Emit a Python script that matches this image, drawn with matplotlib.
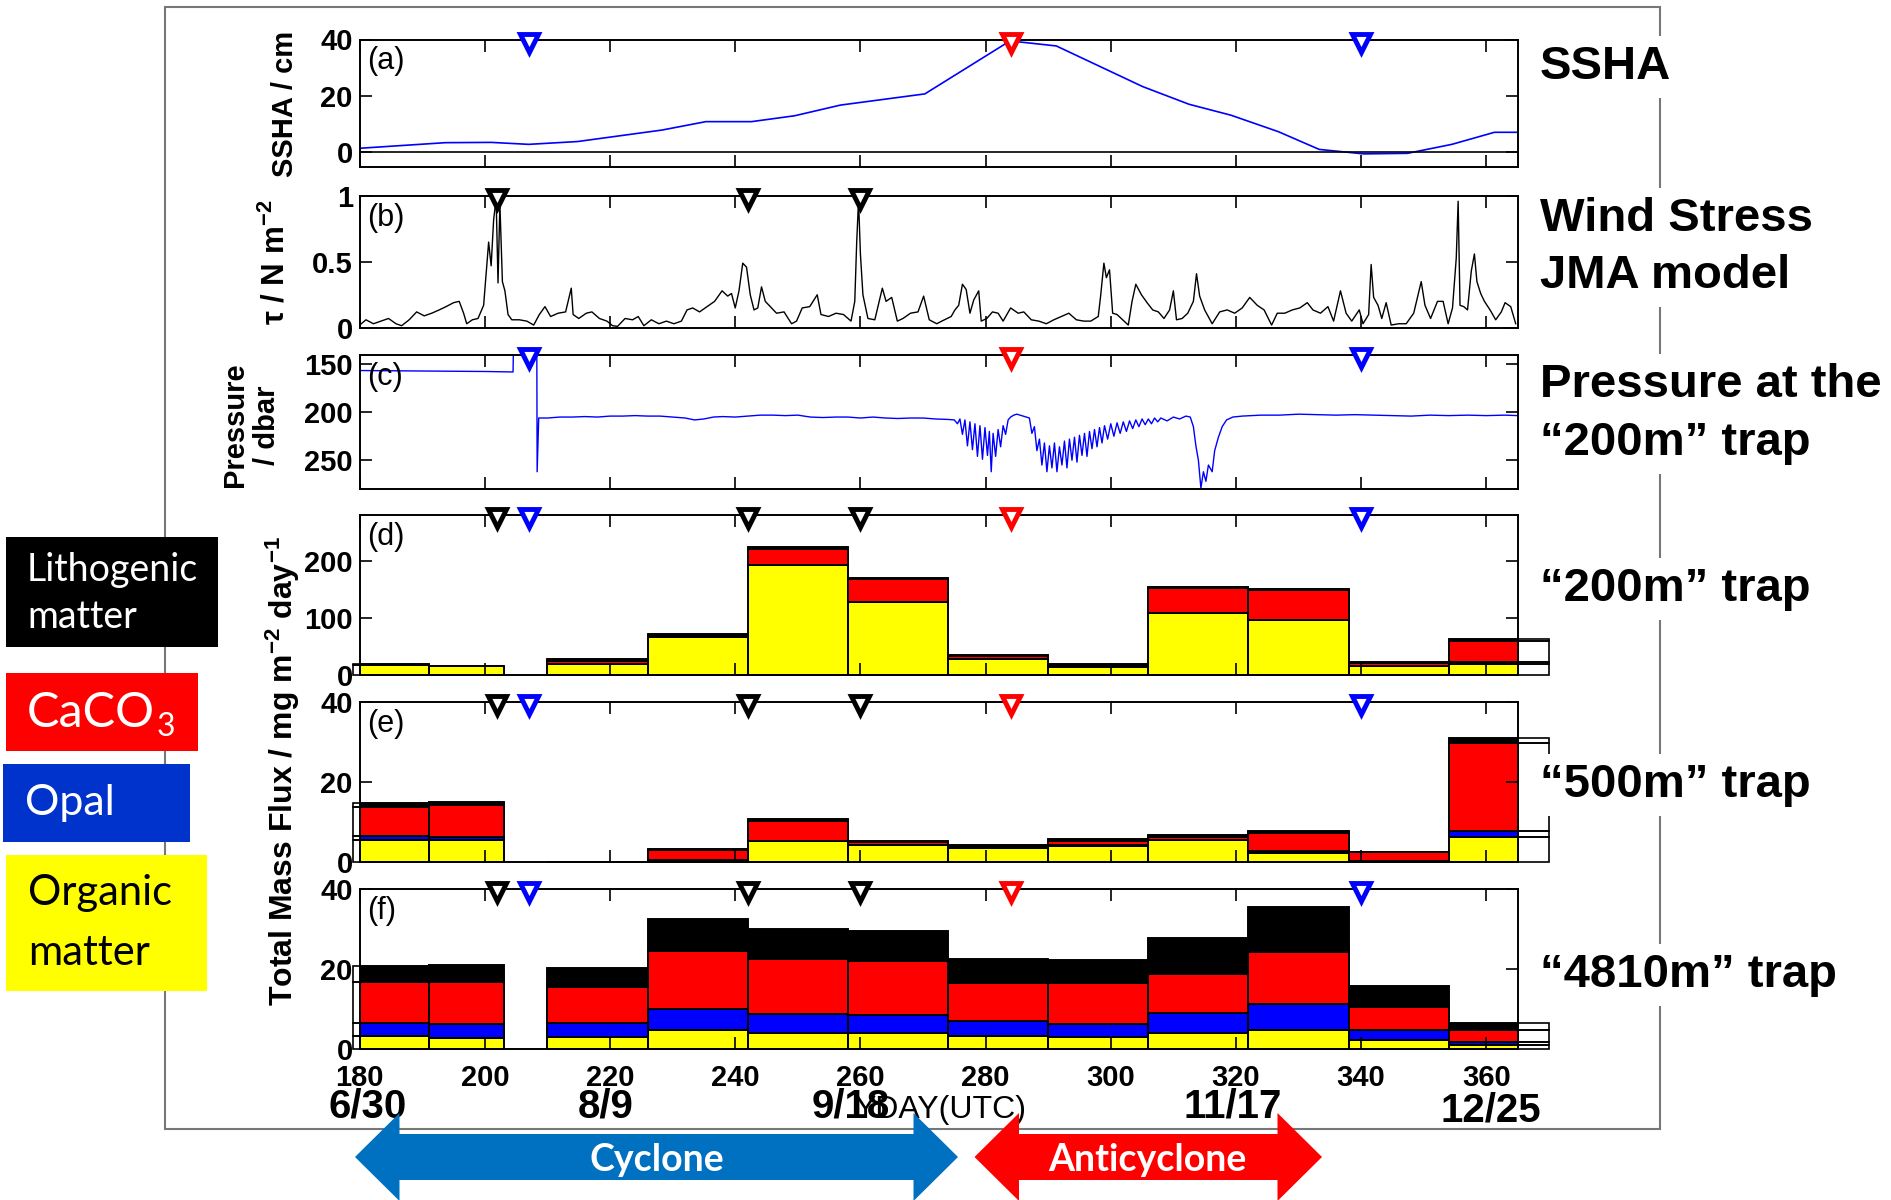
import matplotlib
matplotlib.use('Agg')

import matplotlib.pyplot as plt
import matplotlib.transforms as mtransforms
from matplotlib.patches import Rectangle, Polygon
from matplotlib.text import Annotation

# ---------------- data ----------------
# (a) SSHA (cm)
ssha_day = [180, 193.7, 201, 207, 214.8, 228.3, 235.3, 242.6, 249.5, 256.8, 270.3,
            283.9, 291.3, 305.1, 312.5, 319.2, 326.8, 333.3, 340.4, 347.4, 354.5, 361.3, 365]
ssha_cm = [1.2, 3.2, 3.3, 2.6, 3.6, 7.7, 10.7, 10.7, 12.8, 16.6, 20.6,
           39.5, 37.7, 23.2, 16.9, 13.0, 7.1, 0.8, -0.8, -0.6, 2.6, 6.9, 6.9]

# (b) wind stress, JMA model (N m-2)
wind_day = [180, 181, 182.2, 183.4, 184.6, 185.8, 186.7, 187.9, 189.1, 190.3, 191.5, 192.7,
            193.8, 195, 195.9, 196.6, 197.1, 198, 198.9, 199.8, 200.1, 200.6, 201, 201.4,
            201.8, 202.1, 202.4, 202.8, 203.2, 203.7, 204.3, 205.5, 206.7, 207.8, 208.7, 209.6,
            210.5, 211.7, 212.9, 213.8, 214.1, 215, 216.2, 217.1, 218.3, 219.5, 220.4, 221.2,
            222.4, 223.6, 224.5, 225.4, 226.6, 227.8, 229, 230.2, 231.4, 232.3, 233.2, 234.3,
            235.5, 236.7, 237.9, 238.8, 239.4, 240, 240.6, 241.2, 241.8, 242.4, 243, 243.6,
            244.2, 244.8, 245.4, 246.6, 247.8, 249, 249.8, 250.7, 251.9, 253.1, 253.7, 254.9,
            256.1, 257.3, 258.5, 259.1, 259.4, 259.7, 260, 260.4, 261.2, 262.3, 263.5, 264.1,
            265, 265.9, 266.8, 268, 269.2, 270.1, 271, 272.2, 273, 274.5, 275.1, 275.7,
            276.3, 276.9, 277.5, 278.1, 278.9, 279.3, 280.2, 281.1, 282, 282.8, 284, 285.2,
            286.1, 287.3, 288.5, 289.7, 290.9, 292.1, 293.3, 294.5, 295.7, 296.8, 298, 298.4,
            298.9, 299.3, 299.8, 300.3, 301, 301.9, 302.8, 303.4, 304, 304.9, 305.8, 306.7,
            307.6, 308.5, 309.4, 310, 310.5, 311.4, 312.3, 313.2, 313.7, 314.2, 315, 316.2,
            317.4, 318.6, 319.8, 321, 322.2, 323.4, 324.5, 325.7, 326.6, 327.8, 329, 330.2,
            331.4, 332.3, 333.5, 334.7, 335.6, 336.7, 337.6, 338.5, 339.7, 340.3, 341.2, 341.6,
            342, 342.7, 343.3, 344, 344.8, 346, 347.2, 348.4, 349.6, 350.2, 351.1, 352.2,
            353.1, 353.9, 354.6, 355.2, 355.5, 355.8, 356.4, 357, 357.6, 358.1, 358.5, 359.1,
            359.7, 360.6, 361.5, 362.4, 363, 363.9, 364.7]
wind_tau = [0.02, 0.06, 0.03, 0.05, 0.07, 0.03, 0.015, 0.06, 0.12, 0.09, 0.11, 0.135,
            0.16, 0.19, 0.20, 0.11, 0.03, 0.06, 0.07, 0.17, 0.35, 0.65, 0.47, 0.82,
            0.98, 0.34, 0.94, 0.35, 0.28, 0.10, 0.06, 0.06, 0.05, 0.02, 0.10, 0.16,
            0.085, 0.11, 0.12, 0.30, 0.10, 0.07, 0.11, 0.12, 0.07, 0.05, 0.015, 0.01,
            0.07, 0.06, 0.085, 0.015, 0.06, 0.03, 0.05, 0.03, 0.05, 0.135, 0.15, 0.12,
            0.16, 0.20, 0.28, 0.24, 0.26, 0.15, 0.28, 0.49, 0.46, 0.25, 0.135, 0.15,
            0.31, 0.20, 0.17, 0.11, 0.12, 0.03, 0.05, 0.15, 0.16, 0.25, 0.10, 0.085,
            0.11, 0.10, 0.05, 0.20, 0.64, 0.97, 0.56, 0.25, 0.07, 0.06, 0.30, 0.20,
            0.23, 0.05, 0.07, 0.11, 0.12, 0.24, 0.06, 0.03, 0.05, 0.085, 0.135, 0.17,
            0.33, 0.29, 0.11, 0.21, 0.28, 0.05, 0.07, 0.12, 0.11, 0.05, 0.15, 0.11,
            0.12, 0.06, 0.05, 0.03, 0.06, 0.085, 0.11, 0.06, 0.05, 0.05, 0.085, 0.25,
            0.49, 0.38, 0.44, 0.11, 0.10, 0.06, 0.02, 0.20, 0.33, 0.25, 0.19, 0.135,
            0.12, 0.07, 0.135, 0.28, 0.06, 0.07, 0.11, 0.20, 0.41, 0.24, 0.135, 0.03,
            0.12, 0.135, 0.11, 0.15, 0.23, 0.17, 0.135, 0.02, 0.11, 0.11, 0.135, 0.15,
            0.19, 0.135, 0.11, 0.16, 0.05, 0.28, 0.11, 0.05, 0.135, 0.03, 0.10, 0.48,
            0.23, 0.17, 0.07, 0.19, 0.02, 0.03, 0.03, 0.11, 0.35, 0.17, 0.07, 0.20,
            0.20, 0.03, 0.15, 0.53, 0.96, 0.17, 0.16, 0.135, 0.43, 0.56, 0.35, 0.26,
            0.20, 0.135, 0.06, 0.12, 0.19, 0.16, 0.03]

# (c) pressure at the "200m" trap (dbar)
pres_day = [180, 185, 190, 195, 200, 204.5, 204.55, 208.3, 208.35, 208.6,
            210, 212, 214, 216, 218, 220, 222, 224, 226, 228, 230, 232, 233.5, 235,
            236.5, 238, 240, 242, 244, 246, 248, 250, 252, 254, 256, 258, 260, 262,
            264, 266, 268, 270, 272, 274, 275, 275.5, 275.9, 276.3, 276.7, 277.1,
            277.5, 277.9, 278.3, 278.7, 279.1, 279.5, 279.9, 280.3, 280.6, 280.9,
            281.2, 281.6, 282.0, 282.4, 282.8, 283.2, 283.6, 284.0, 284.5, 285.0,
            285.5, 286.0, 286.5, 287.0, 287.4, 287.8, 288.2, 288.6, 289.0, 289.4,
            289.8, 290.2, 290.6, 291.0, 291.4, 291.8, 292.2, 292.6, 293.0, 293.4,
            293.8, 294.2, 294.6, 295.0, 295.4, 295.8, 296.2, 296.6, 297.0, 297.4,
            297.8, 298.2, 298.6, 299.0, 299.5, 300.0, 300.5, 301.0, 301.5, 302,
            302.5, 303, 303.5, 304, 304.5, 305, 305.5, 306, 306.5, 307, 307.5, 308,
            309, 310, 311, 312, 312.7, 313.2, 313.6, 314, 314.4, 314.8, 315.2, 315.6,
            316.2, 316.6, 317.2, 317.8, 318.5, 319.5, 321, 324, 327, 330, 333, 336,
            339, 342, 345, 348, 351, 354, 357, 360, 363, 365]
pres_dbar = [156.5, 156.8, 157, 157.2, 157.5, 158, 138, 138, 262, 206,
             206, 205, 205, 204.5, 205, 204, 204, 203.5, 204, 204, 205, 206, 208, 207,
             205, 204.5, 205, 204, 203, 203, 203.5, 203, 205, 205.5, 205, 205, 206, 205,
             206, 206.5, 206, 206, 207, 207.5, 208, 212, 207, 223, 208, 235,
             210, 239, 212, 246, 214, 249, 216, 245, 220, 262,
             222, 246, 218, 236, 214, 223, 208, 205, 203, 202,
             203, 204, 205, 206, 222, 215, 240, 228, 255, 232,
             262, 235, 258, 232, 262, 236, 255, 230, 258, 228,
             250, 226, 252, 224, 245, 222, 246, 220, 238, 218,
             236, 216, 232, 214, 228, 212, 225, 211, 222, 210,
             220, 209, 217, 208, 215, 207, 213, 207, 212, 206, 210, 206,
             209, 205, 207, 204, 205, 215, 235, 250, 279, 262, 272, 255,
             262, 240, 226, 215, 208, 205, 204, 203, 203, 202, 202.5, 203,
             202.5, 203, 203.5, 204, 203, 203.5, 203, 203.5, 203, 203.5]

# (d)-(f) sediment trap fluxes (mg m-2 day-1), bins in YDAY
bin_start = [179, 191, 210, 226, 242, 258, 274, 290, 306, 322, 338, 354]
bin_end = [191, 203, 226, 242, 258, 274, 290, 306, 322, 338, 354, 370]

t200_org = [17, 15, 19.5, 66, 192, 127, 28, 13.4, 108, 96, 16, 20]
t200_opal = [0.2, 0.2, 0.3, 0.3, 1, 0.5, 0.5, 0.3, 0.5, 0.5, 0.3, 2]
t200_caco3 = [0.4, 0.3, 5.5, 1, 28, 40, 4.5, 1, 44, 52, 4.5, 37]
t200_litho = [1, 0.8, 2, 5, 3.5, 2.5, 2, 4, 2, 2, 2, 4]

t500_org = [5.4, 5.4, 0, 0.3, 5.1, 4.2, 3.5, 4.0, 5.4, 2.2, 0.2, 6.1]
t500_opal = [1.1, 0.8, 0, 0.05, 0.1, 0.1, 0.1, 0.1, 0.1, 0.4, 0.05, 1.5]
t500_caco3 = [7.3, 8.1, 0, 2.5, 5.1, 0.6, 0.2, 1.2, 0.8, 4.6, 2.1, 22]
t500_litho = [0.8, 0.7, 0, 0.3, 0.3, 0.35, 0.3, 0.5, 0.4, 0.6, 0.2, 1.4]

t4810_org = [3.3, 2.8, 3.1, 4.7, 4.1, 3.9, 3.2, 3.1, 3.9, 4.75, 2.2, 0.9]
t4810_opal = [3.1, 3.5, 3.4, 5.2, 4.6, 4.6, 3.8, 3.2, 5.2, 6.5, 2.55, 0.9]
t4810_caco3 = [10.3, 10.5, 9.1, 14.7, 13.8, 13.5, 9.5, 10.2, 9.7, 13.15, 5.85, 2.95]
t4810_litho = [4.2, 4.3, 4.6, 7.9, 7.5, 7.6, 6.1, 5.9, 9.0, 11.2, 5.1, 1.65]

# event markers (YDAY)
black_marks = [202, 242, 260]
blue_marks = [207, 340]
red_marks = [284]

xtick_vals = [180, 200, 220, 240, 260, 280, 300, 320, 340, 360]
date_labels = ['6/30', '8/9', '9/18', '11/17', '12/25']

# ---------------- figure ----------------
plt.rcParams['font.family'] = ['Liberation Sans', 'DejaVu Sans']
plt.rcParams['mathtext.fontset'] = 'custom'
plt.rcParams['mathtext.rm'] = 'Liberation Sans:bold'
plt.rcParams['mathtext.bf'] = 'Liberation Sans:bold'
plt.rcParams['mathtext.it'] = 'Liberation Sans:bold:italic'

W, H = 1891, 1200
fig = plt.figure(figsize=(W / 100, H / 100), dpi=100)


def fx(x):
    return x / W


def fy(y):
    return 1 - y / H


left, right = 359.7, 1517.6
rows = [(39.5, 166.5), (196, 327.7), (354.7, 489), (515, 675), (701.7, 861.7), (889.3, 1049)]
axes = []
for top, bot in rows:
    axes.append(fig.add_axes([fx(left), fy(bot), (right - left) / W, (bot - top) / H]))
ax_a, ax_b, ax_c, ax_d, ax_e, ax_f = axes

TICKFS = 21
for ax, lab in zip(axes, 'abcdef'):
    ax.set_xlim(180, 365)
    ax.set_xticks(xtick_vals)
    ax.tick_params(direction='in', length=8.5, width=1.2, top=True, right=True, labelbottom=False)
    ax.tick_params(axis='y', pad=5)
    for sp in ax.spines.values():
        sp.set_linewidth(1.4)
    tr = mtransforms.offset_copy(ax.transAxes, fig=fig, x=7, y=-22, units='dots')
    ax.text(0, 1, '(%s)' % lab, transform=tr, fontsize=22, ha='left', va='center')


def marks(ax, days, color):
    tr = mtransforms.offset_copy(ax.get_xaxis_transform(), fig=fig, y=-3, units='dots')
    ax.plot(days, [1] * len(days), 'v', ms=13, mfc='white', mec=color, mew=3.5,
            transform=tr, clip_on=False, zorder=10, ls='none')


# (a)
ax_a.plot(ssha_day, ssha_cm, color='#0000ff', lw=1.2)
ax_a.axhline(0, color='k', lw=1.2)
ax_a.set_ylim(-5.3, 40)
ax_a.set_yticks([0, 20, 40], ['0', '20', '40'], fontsize=TICKFS, fontweight='bold')
marks(ax_a, blue_marks, '#0000ff')
marks(ax_a, red_marks, '#ff0000')

# (b)
ax_b.plot(wind_day, wind_tau, color='k', lw=1.0)
ax_b.set_ylim(0, 1)
ax_b.set_yticks([0, 0.5, 1], ['0', '0.5', '1'], fontsize=TICKFS, fontweight='bold')
marks(ax_b, black_marks, 'k')

# (c)
ax_c.plot(pres_day, pres_dbar, color='#0000ff', lw=1.0)
ax_c.set_ylim(280, 140)
ax_c.set_yticks([150, 200, 250], ['150', '200', '250'], fontsize=TICKFS, fontweight='bold')
marks(ax_c, blue_marks, '#0000ff')
marks(ax_c, red_marks, '#ff0000')


def stack(ax, parts):
    colors = ['#ffff00', '#0000ff', '#ff0000', '#000000']
    widths = [e - s for s, e in zip(bin_start, bin_end)]
    bottom = [0.0] * len(bin_start)
    for vals, col in zip(parts, colors):
        ax.bar(bin_start, vals, width=widths, bottom=bottom, align='edge',
               color=col, edgecolor='k', lw=1.2, zorder=1)
        ax.bar(bin_start, vals, width=widths, bottom=bottom, align='edge',
               fill=False, edgecolor='k', lw=1.2, clip_on=False, zorder=1)
        bottom = [b + v for b, v in zip(bottom, vals)]


stack(ax_d, [t200_org, t200_opal, t200_caco3, t200_litho])
ax_d.set_ylim(0, 280)
ax_d.set_yticks([0, 100, 200], ['0', '100', '200'], fontsize=TICKFS, fontweight='bold')

stack(ax_e, [t500_org, t500_opal, t500_caco3, t500_litho])
ax_e.set_ylim(0, 40)
ax_e.set_yticks([0, 20, 40], ['0', '20', '40'], fontsize=TICKFS, fontweight='bold')

stack(ax_f, [t4810_org, t4810_opal, t4810_caco3, t4810_litho])
ax_f.set_ylim(0, 40)
ax_f.set_yticks([0, 20, 40], ['0', '20', '40'], fontsize=TICKFS, fontweight='bold')
ax_f.tick_params(axis='x', labelbottom=True, pad=11)
ax_f.set_xticklabels([str(v) for v in xtick_vals], fontsize=TICKFS, fontweight='bold')

for ax in (ax_d, ax_e, ax_f):
    marks(ax, black_marks, 'k')
    marks(ax, blue_marks, '#0000ff')
    marks(ax, red_marks, '#ff0000')

# y labels
fig.text(fx(285), fy(104), 'SSHA / cm', rotation=90, fontsize=21, fontweight='bold',
         ha='center', va='center')
fig.text(fx(276), fy(262), 'τ / N m$^{-2}$', rotation=90, fontsize=22.5, fontweight='bold',
         ha='center', va='center')
fig.text(fx(251), fy(425), 'Pressure\n/ dbar', rotation=90, fontsize=21, fontweight='bold',
         ha='center', va='center', multialignment='center', linespacing=1.2)
fig.text(fx(283), fy(771), 'Total Mass Flux / mg m$^{-2}$ day$^{-1}$', rotation=90,
         fontsize=23, fontweight='bold', ha='center', va='center')

# x label and dates
fig.text(fx(940), fy(1110), 'YDAY(UTC)', fontsize=23, ha='center', va='center', zorder=2)
date_x = [368, 606, 851, 1233, 1491]
date_y = [1106, 1106, 1106, 1106, 1110]
for s, x, y in zip(date_labels, date_x, date_y):
    fig.text(fx(x), fy(y), s, fontsize=29, fontweight='bold', ha='center', va='center', zorder=3)

# outer frame
fig.add_artist(Rectangle((fx(165), fy(1129)), (1660 - 165) / W, (1129 - 7) / H, fill=False,
                         ec='#777777', lw=1.5, transform=fig.transFigure, zorder=0.1))

# right-hand labels
wb = dict(fc='white', ec='none', boxstyle='square,pad=0.2')
right_labels = [('SSHA', 67), ('Wind Stress', 219), ('JMA model', 276),
                ('Pressure at the', 385), ('\u201c200m\u201d trap', 443),
                ('\u201c200m\u201d trap', 589), ('\u201c500m\u201d trap', 785),
                ('\u201c4810m\u201d trap', 975)]
for s, y in right_labels:
    fig.text(fx(1540), fy(y), s, fontsize=34, fontweight='bold', ha='left', va='center',
             bbox=wb, zorder=3)

# legend boxes
boxes = [((6, 537, 218, 647), '#000000'), ((6, 673, 198, 751), '#ff0000'),
         ((3, 764, 190, 842), '#0033cc'), ((6, 855, 207, 991), '#ffff00')]
for (x0, y0, x1, y1), col in boxes:
    fig.add_artist(Rectangle((fx(x0), fy(y1)), (x1 - x0) / W, (y1 - y0) / H, fc=col, ec='none',
                             transform=fig.transFigure, zorder=2))
lfont = ['Lato', 'DejaVu Sans']
fig.text(fx(27), fy(570), 'Lithogenic', color='white', fontsize=27, family=lfont, va='center', zorder=3)
fig.text(fx(27), fy(617), 'matter', color='white', fontsize=27, family=lfont, va='center', zorder=3)
t_ca = fig.text(fx(27), fy(713), 'CaCO', color='white', fontsize=35, family=lfont, va='center', zorder=3)
fig.add_artist(Annotation('3', xy=(1, 0), xycoords=t_ca, xytext=(1, -5), textcoords='offset points',
                          color='white', fontsize=23, family=lfont, ha='left', va='bottom', zorder=3))
fig.text(fx(25), fy(803), 'Opal', color='white', fontsize=31, family=lfont, va='center', zorder=3)
fig.text(fx(28), fy(893), 'Organic', color='black', fontsize=30, family=lfont, va='center', zorder=3)
fig.text(fx(28), fy(953), 'matter', color='black', fontsize=30, family=lfont, va='center', zorder=3)


# eddy arrows
def arrow(x0, x1, col):
    yc, hh, bh, hl = 1157, 44, 23, 44.5
    pts = [(x0, yc), (x0 + hl, yc - hh), (x0 + hl, yc - bh), (x1 - hl, yc - bh), (x1 - hl, yc - hh),
           (x1, yc), (x1 - hl, yc + hh), (x1 - hl, yc + bh), (x0 + hl, yc + bh), (x0 + hl, yc + hh)]
    fig.add_artist(Polygon([(fx(x), fy(y)) for x, y in pts], closed=True, fc=col, ec='none',
                           transform=fig.transFigure, zorder=4))


arrow(355, 958, '#0070c0')
arrow(974.5, 1322, '#ff0000')
fig.text(fx(657), fy(1160), 'Cyclone', color='white', fontsize=27, fontweight='bold', family=lfont,
         ha='center', va='center', zorder=5)
fig.text(fx(1147), fy(1160), 'Anticyclone', color='white', fontsize=27, fontweight='bold', family=lfont,
         ha='center', va='center', zorder=5)

fig.savefig('out.png', dpi=100)
